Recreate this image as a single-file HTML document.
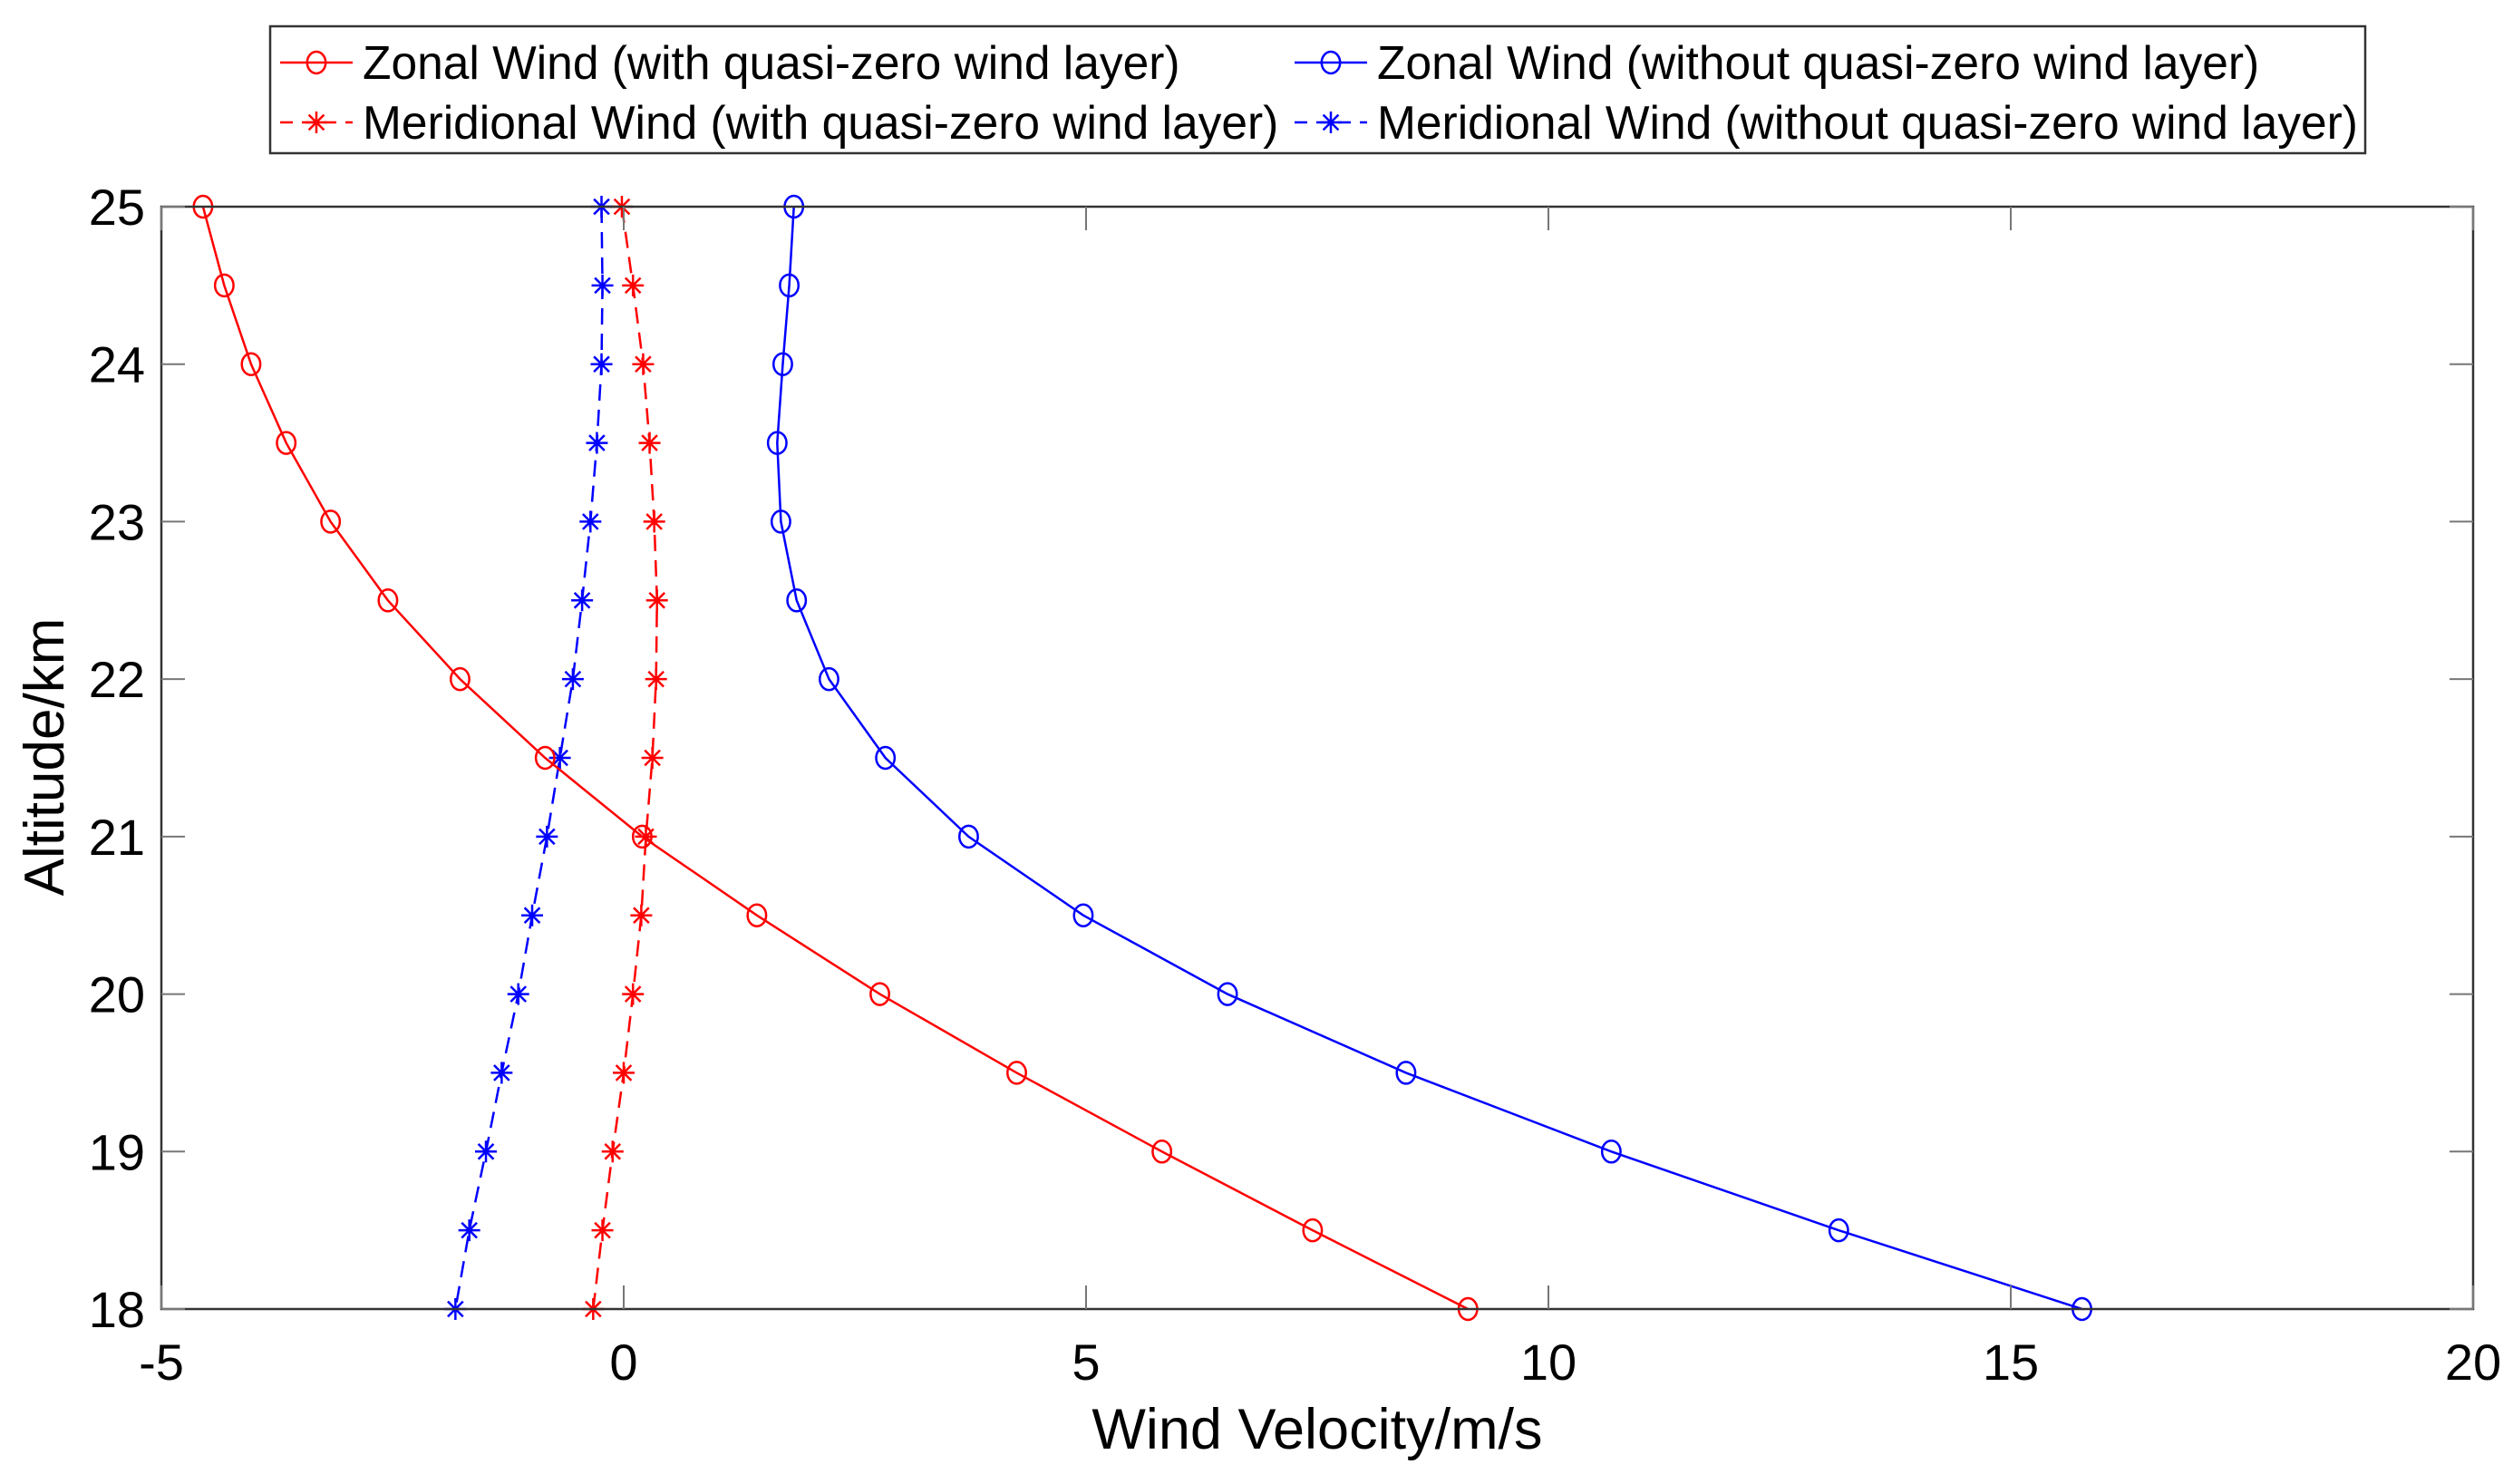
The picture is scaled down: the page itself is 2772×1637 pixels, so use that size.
<!DOCTYPE html>
<html><head><meta charset="utf-8">
<style>
html,body{margin:0;padding:0;background:#fff;}
svg{display:block;font-family:"Liberation Sans",Arial,sans-serif;}
</style></head>
<body>
<svg id="chart" width="2772" height="1637" viewBox="0 0 2772 1637" xmlns="http://www.w3.org/2000/svg">
  <rect x="0" y="0" width="2772" height="1637" fill="#fff"/>
  <g id="plot"></g>
  <g id="axes"></g>
  <text x="1453" y="1598" font-size="63" text-anchor="middle" fill="#000">Wind Velocity/m/s</text>
  <text transform="translate(70,835) rotate(-90)" font-size="62" text-anchor="middle" fill="#000">Altitude/km</text>
  <g id="legend"></g>
</svg>
<script>
const altitudes = [25,24.5,24,23.5,23,22.5,22,21.5,21,20.5,20,19.5,19,18.5,18];
const zonalWith = [-4.55,-4.32,-4.03,-3.65,-3.17,-2.55,-1.77,-0.85,0.2,1.44,2.77,4.25,5.82,7.45,9.13];
const zonalWithout = [1.84,1.79,1.72,1.66,1.70,1.87,2.22,2.83,3.73,4.97,6.53,8.46,10.68,13.14,15.77];
const meridWith = [-0.02,0.1,0.21,0.28,0.33,0.36,0.35,0.31,0.24,0.19,0.1,0,-0.12,-0.23,-0.33];
const meridWithout = [-0.24,-0.23,-0.24,-0.29,-0.36,-0.45,-0.55,-0.69,-0.83,-0.99,-1.14,-1.32,-1.49,-1.67,-1.82];
const xTicks = [-5,0,5,10,15,20];
const yTicks = [18,19,20,21,22,23,24,25];
const legendLabels = ["Zonal Wind (with quasi-zero wind layer)","Meridional Wind (with quasi-zero wind layer)","Zonal Wind (without quasi-zero wind layer)","Meridional Wind (without quasi-zero wind layer)"];

const NS="http://www.w3.org/2000/svg";
const L=178,R=2728,T=228,B=1444;
const xMin=-5,xMax=20,yMin=18,yMax=25;
function xs(v){return L+(v-xMin)/(xMax-xMin)*(R-L);}
function ys(v){return B-(v-yMin)/(yMax-yMin)*(B-T);}
function mk(tag,attrs,parent){const e=document.createElementNS(NS,tag);for(const k in attrs)e.setAttribute(k,attrs[k]);parent.appendChild(e);return e;}
const plot=document.getElementById('plot'),axes=document.getElementById('axes'),leg=document.getElementById('legend');

const box=mk('rect',{x:L,y:T,width:R-L,height:B-T,fill:'none',stroke:'#333','stroke-width':2.5},axes);


xTicks.forEach(v=>{
  const x=xs(v);
  mk('line',{x1:x,y1:B,x2:x,y2:B-26,stroke:'#777','stroke-width':2},axes);
  mk('line',{x1:x,y1:T,x2:x,y2:T+26,stroke:'#777','stroke-width':2},axes);
  const t=mk('text',{x:x,y:B+78,'font-size':56,'text-anchor':'middle',fill:'#000'},axes);
  t.textContent=v;
  
  
});
yTicks.forEach(v=>{
  const y=ys(v);
  mk('line',{x1:L,y1:y,x2:L+26,y2:y,stroke:'#777','stroke-width':2},axes);
  mk('line',{x1:R,y1:y,x2:R-26,y2:y,stroke:'#777','stroke-width':2},axes);
  const t=mk('text',{x:L-18,y:y+20,'font-size':56,'text-anchor':'end',fill:'#000'},axes);
  t.textContent=v;
  
  
});

function marker(g,x,y,type,color,size){
  if(type==='o'){
    mk('ellipse',{cx:x,cy:y,rx:size*0.85,ry:size,fill:'none',stroke:color,'stroke-width':2.5},g);
  } else {
    const s=size;
    mk('line',{x1:x-s,y1:y,x2:x+s,y2:y,stroke:color,'stroke-width':2.5},g);
    mk('line',{x1:x,y1:y-s,x2:x,y2:y+s,stroke:color,'stroke-width':2.5},g);
    mk('line',{x1:x-s*0.7,y1:y-s*0.7,x2:x+s*0.7,y2:y+s*0.7,stroke:color,'stroke-width':2.5},g);
    mk('line',{x1:x-s*0.7,y1:y+s*0.7,x2:x+s*0.7,y2:y-s*0.7,stroke:color,'stroke-width':2.5},g);
  }
}
function series(vals,color,dash,type,name){
  const g=mk('g',{},plot);
  
  
  const pts=vals.map((v,i)=>xs(v)+','+ys(altitudes[i])).join(' ');
  const pl=mk('polyline',{points:pts,fill:'none',stroke:color,'stroke-width':2.5},g);
  if(dash)pl.setAttribute('stroke-dasharray','18,10');
  vals.forEach((v,i)=>marker(g,xs(v),ys(altitudes[i]),type,color,12));
}
series(meridWith,'#ff0000',true,'*','meridional-with-series');
series(meridWithout,'#0000ff',true,'*','meridional-without-series');
series(zonalWith,'#ff0000',false,'o','zonal-with-series');
series(zonalWithout,'#0000ff',false,'o','zonal-without-series');

const lb=mk('rect',{x:298,y:29,width:2311,height:140,fill:'#fff',stroke:'#333','stroke-width':2.5},leg);


const legendPos=[[309,69],[309,135],[1428,69],[1428,135]];
const legendStyle=[['#ff0000',false,'o'],['#ff0000',true,'*'],['#0000ff',false,'o'],['#0000ff',true,'*']];
legendLabels.forEach((lab,i)=>{
  const g=mk('g',{},leg);
  
  
  const [x,y]=legendPos[i],[c,d,t]=legendStyle[i];
  const ln=mk('line',{x1:x,y1:y,x2:x+80,y2:y,stroke:c,'stroke-width':2.5},g);
  if(d)ln.setAttribute('stroke-dasharray','14,10');
  marker(g,x+40,y,t,c,12);
  const tx=mk('text',{x:x+91,y:y+18,'font-size':51.5,fill:'#000'},g);
  tx.textContent=lab;
});
</script>
</body></html>
